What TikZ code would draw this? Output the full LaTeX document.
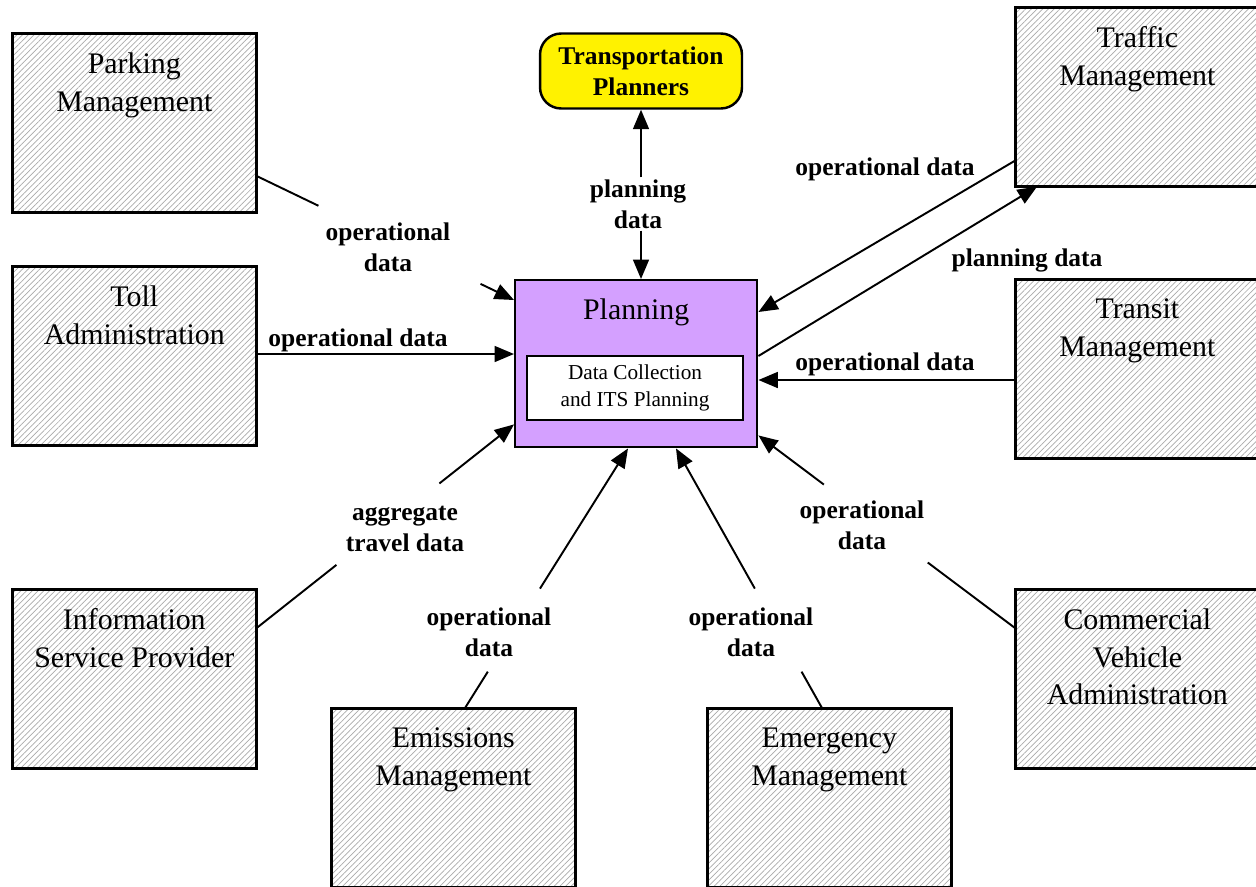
\documentclass[tikz,border=0pt]{standalone}
\usepackage{fontspec}
\setmainfont{Liberation Serif}
\usetikzlibrary{patterns.meta,arrows.meta,calc}
\definecolor{plum}{RGB}{212,160,255}
\definecolor{hatch}{RGB}{170,170,170}
\begin{document}
\begin{tikzpicture}[x=0.02cm,y=-0.02cm,
  extbox/.style={fill=white,
    postaction={pattern={Lines[angle=45,distance=2.3pt,line width=0.4pt]}, pattern color=hatch},
    postaction={draw, line width=1.4pt},
    minimum width=4.88cm, minimum height=3.58cm, inner sep=0pt, anchor=north west},
  boxtext/.style={anchor=north, align=center, font=\fontsize{17}{21.5}\selectfont, inner sep=0pt, yshift=-11pt},
  lab/.style={font=\bfseries\fontsize{14.5}{17.6}\selectfont, align=center, inner sep=1pt},
  conn/.style={line width=1.1pt},
  arr/.style={conn, -{Triangle[length=11pt,width=9pt]}}]
\useasboundingbox (0,0) rectangle (1256,886);

% external boxes
\node[extbox, label={[boxtext]north:{Parking\\Management}}] (park) at (12,33) {};
\node[extbox, label={[boxtext]north:{Toll\\Administration}}] (toll) at (12,266) {};
\node[extbox, label={[boxtext]north:{Information\\Service Provider}}] (isp) at (12,589) {};
\node[extbox, label={[boxtext]north:{Emissions\\Management}}] (emis) at (331,708) {};
\node[extbox, label={[boxtext]north:{Emergency\\Management}}] (emer) at (707,708) {};
\node[extbox, label={[boxtext]north:{Commercial\\Vehicle\\Administration}}] (cva) at (1015,589) {};
\node[extbox, label={[boxtext]north:{Transit\\Management}}] (transit) at (1015,279) {};
\node[extbox, label={[boxtext]north:{Traffic\\Management}}] (traffic) at (1015,7) {};

% planning
\node[draw, line width=1.4pt, fill=plum, minimum width=4.84cm, minimum height=3.34cm,
  inner sep=0pt, anchor=north west, label={[boxtext]north:{Planning}}] (plan) at (514,279) {};
\node[draw, line width=1.4pt, fill=white, minimum width=4.32cm, minimum height=1.28cm,
  inner sep=0pt, align=center, font=\fontsize{12.1}{15.3}\selectfont] (dc) at (635,388)
  {Data Collection\\and ITS Planning};

% transportation planners
\node[draw, line width=1.4pt, fill=yellow, rounded corners=12pt, minimum width=4.04cm,
  minimum height=1.5cm, inner sep=0pt, align=center,
  font=\bfseries\fontsize{14.5}{17.6}\selectfont] (tp) at (641,71) {Transportation\\Planners};

% 1 parking
\coordinate (c1a) at ($(park.north east)+(0,143)$);
\coordinate (c1b) at ($(plan.north west)+(0,21)$);
\draw[conn] (c1a) -- ($(c1a)!0.24!(c1b)$);
\draw[arr] ($(c1a)!0.87!(c1b)$) -- (c1b);
\node[lab] (l1) at (388,247) {operational\\data};

% 2 toll
\coordinate (c2b) at ($(plan.north west)+(0,75)$);
\draw[arr] (toll.east |- c2b) -- (c2b);
\node[lab] (l2) at (358,340) {operational data};

% 3 isp
\coordinate (c3a) at ($(isp.north east)+(0,39)$);
\coordinate (c3b) at ($(plan.south west)+(0,-24)$);
\draw[conn] (c3a) -- ($(c3a)!0.31!(c3b)$);
\draw[arr] ($(c3a)!0.71!(c3b)$) -- (c3b);
\node[lab] (l3) at (405,529) {aggregate\\travel data};

% 4 emissions
\coordinate (c4a) at ($(emis.north west)+(134,0)$);
\coordinate (c4b) at ($(plan.south west)+(114,0)$);
\draw[conn] (c4a) -- ($(c4a)!0.14!(c4b)$);
\draw[arr] ($(c4a)!0.46!(c4b)$) -- (c4b);
\node[lab] (l4) at (489,632) {operational\\data};

% 5 emergency
\coordinate (c5a) at ($(emer.north west)+(115,0)$);
\coordinate (c5b) at ($(plan.south west)+(162,0)$);
\draw[conn] (c5a) -- ($(c5a)!0.14!(c5b)$);
\draw[arr] ($(c5a)!0.46!(c5b)$) -- (c5b);
\node[lab] (l5) at (751,632) {operational\\data};

% 6 cva
\coordinate (c6a) at ($(cva.north west)+(0,39)$);
\coordinate (c6b) at ($(plan.south east)+(0,-13)$);
\draw[conn] (c6a) -- ($(c6a)!0.34!(c6b)$);
\draw[arr] ($(c6a)!0.745!(c6b)$) -- (c6b);
\node[lab] (l6) at (862,525) {operational\\data};

% 7 transit
\coordinate (c7a) at ($(transit.north west)+(0,101)$);
\draw[arr] (c7a) -- (c7a -| plan.east);
\node[lab] (l7) at (885,364) {operational data};

% 8 traffic -> planning
\coordinate (c8a) at ($(traffic.south west)+(0,-26)$);
\coordinate (c8b) at ($(plan.north east)+(0,33)$);
\draw[arr] (c8a) -- (c8b);
\node[lab] (l8) at (885,169) {operational data};

% 9 planning -> traffic
\coordinate (c9a) at ($(plan.north east)+(0,77)$);
\coordinate (c9b) at ($(traffic.south west)+(22,0)$);
\draw[arr] (c9a) -- (c9b);
\node[lab] (l9) at (1027,260) {planning data};

% 10 planning <-> transportation planners
\node[lab] (l10) at (638,204) {planning\\data};
\draw[arr] (tp.south |- l10.north) -- (tp.south);
\draw[arr] (tp.south |- l10.south) -- (tp.south |- plan.north);
\end{tikzpicture}
\end{document}
